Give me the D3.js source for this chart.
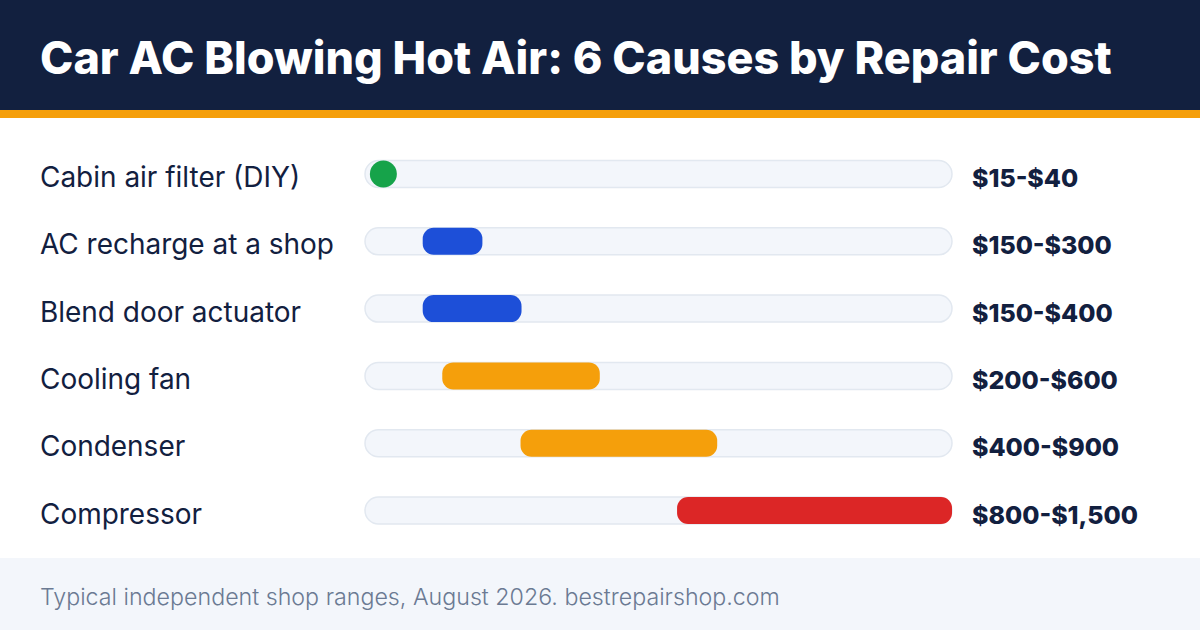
<!DOCTYPE html>
<html>
<head>
<meta charset="utf-8">
<script src="https://cdn.jsdelivr.net/npm/d3@7"></script>
<style>
  html, body { margin: 0; padding: 0; background: #ffffff; }
  svg { display: block; }
</style>
</head>
<body>
<div id="chart"></div>
<script>
// repair causes, cheapest first
var causes = ["Cabin air filter (DIY)", "AC recharge at a shop", "Blend door actuator",
              "Cooling fan", "Condenser", "Compressor"];
var lowCost = [15, 150, 150, 200, 400, 800];
var highCost = [40, 300, 400, 600, 900, 1500];
var tiers = ["diy", "low", "low", "mid", "mid", "high"];
var maxCost = 1500;

var title = "Car AC Blowing Hot Air: 6 Causes by Repair Cost";
var note = "Typical independent shop ranges, August 2026. bestrepairshop.com";

window.onload = function() {
  main();
};

function main() {
  var width = 1200;
  var height = 630;
  var font = "Inter, 'Noto Sans', sans-serif";
  var navy = "#12203f";
  var barHeight = 27;

  var dataset = causes.map(function(d, i) {
    return {name: d, low: lowCost[i], high: highCost[i], tier: tiers[i]};
  });

  var xScale = d3.scaleLinear()
                 .domain([0, maxCost])
                 .range([365, 952]);
  var yScale = d3.scalePoint()
                 .domain(causes)
                 .range([174, 510.5]);
  var color = d3.scaleOrdinal()
                .domain(["diy", "low", "mid", "high"])
                .range(["#16a34a", "#1d4fd8", "#f59f0b", "#dc2626"]);
  var money = d3.format(",");

  var svg = d3.select("#chart")
              .append("svg")
              .attr("width", width)
              .attr("height", height);

  // header
  svg.append("rect")
     .attr("width", width)
     .attr("height", 110)
     .attr("fill", navy);
  svg.append("rect")
     .attr("y", 110)
     .attr("width", width)
     .attr("height", 8)
     .attr("fill", "#f59f0b");

  var titleText = svg.append("text")
     .attr("x", 40)
     .attr("y", 74)
     .attr("fill", "#ffffff")
     .attr("font-family", font)
     .attr("font-weight", 800)
     .attr("font-size", 44)
     .text(title);
  fitWidth(titleText, 1072);

  // footer
  svg.append("rect")
     .attr("y", 558)
     .attr("width", width)
     .attr("height", height - 558)
     .attr("fill", "#f3f6fb");
  var noteText = svg.append("text")
     .attr("x", 40)
     .attr("y", 605)
     .attr("fill", "#6b7a93")
     .attr("font-family", font)
     .attr("font-weight", 300)
     .attr("font-size", 20)
     .text(note);
  fitWidth(noteText, 740);

  var rows = svg.selectAll(".row")
                .data(dataset)
                .enter()
                .append("g")
                .attr("class", "row")
                .attr("transform", function(d) {
                  return "translate(0," + yScale(d.name) + ")";
                });

  // background track
  rows.append("rect")
      .attr("x", xScale(0))
      .attr("y", -barHeight / 2)
      .attr("width", xScale(maxCost) - xScale(0))
      .attr("height", barHeight)
      .attr("rx", barHeight / 2)
      .attr("fill", "#f3f6fb")
      .attr("stroke", "#e2e8f0")
      .attr("stroke-width", 1.5);

  // cost range
  rows.append("rect")
      .attr("x", function(d) { return xScale(d.low) - 1; })
      .attr("y", -barHeight / 2)
      .attr("width", function(d) {
        return Math.max(barHeight, xScale(d.high) - xScale(d.low) + 1);
      })
      .attr("height", barHeight)
      .attr("rx", function(d) {
        return xScale(d.high) - xScale(d.low) < barHeight ? barHeight / 2 : 11;
      })
      .attr("fill", function(d) { return color(d.tier); });

  var labels = rows.append("text")
      .attr("x", 40)
      .attr("y", 13)
      .attr("fill", navy)
      .attr("font-family", font)
      .attr("font-weight", 400)
      .attr("font-size", 26)
      .text(function(d) { return d.name; });

  var values = rows.append("text")
      .attr("x", 972)
      .attr("y", 13)
      .attr("fill", navy)
      .attr("font-family", font)
      .attr("font-weight", 800)
      .attr("font-size", 26)
      .text(function(d) { return "$" + money(d.low) + "-$" + money(d.high); });

  // one size for each column, taken from its widest entry
  fitGroup(labels, "AC recharge at a shop", 294);
  fitGroup(values, "$800-$1,500", 166);
}

function fitWidth(sel, target) {
  var size = +sel.attr("font-size");
  var w = sel.node().getComputedTextLength();
  if (w > 0) {
    sel.attr("font-size", (size * target / w).toFixed(2));
  }
}

function fitGroup(sel, key, target) {
  var size = +sel.attr("font-size");
  var w = 0;
  sel.each(function() {
    if (this.textContent == key) {
      w = this.getComputedTextLength();
    }
  });
  if (w > 0) {
    sel.attr("font-size", (size * target / w).toFixed(2));
  }
}
</script>
</body>
</html>
